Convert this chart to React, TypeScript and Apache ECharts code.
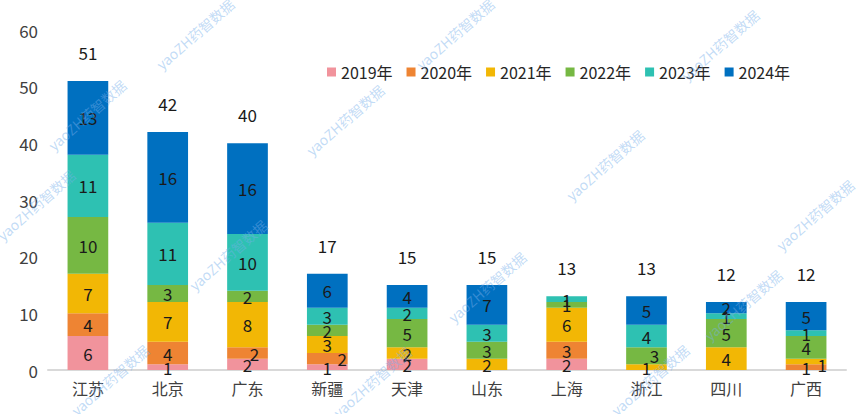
import React, { useEffect, useRef } from "react";
import * as echarts from "echarts";

const categories = ["江苏", "北京", "广东", "新疆", "天津", "山东", "上海", "浙江", "四川", "广西"];
const years = ["2019年", "2020年", "2021年", "2022年", "2023年", "2024年"];
const v2019 = [6, 1, 2, 1, 2, 0, 2, 0, 0, 0];
const v2020 = [4, 4, 2, 2, 0, 0, 3, 0, 0, 1];
const v2021 = [7, 7, 8, 3, 2, 2, 6, 1, 4, 1];
const v2022 = [10, 3, 2, 2, 5, 3, 1, 3, 5, 4];
const v2023 = [11, 11, 10, 3, 2, 3, 1, 4, 1, 1];
const v2024 = [13, 16, 16, 6, 4, 7, 0, 5, 2, 5];
const yTicks = [0, 10, 20, 30, 40, 50, 60];

const seriesValues = [v2019, v2020, v2021, v2022, v2023, v2024];
const colors = ["#F1939C", "#EE8433", "#F2B705", "#76B843", "#2EC1B2", "#0070C0"];

// label nudges (style only): [seriesIndex, categoryIndex, dx, dy]
const labelShifts: [number, number, number, number][] = [
  [1, 2, 7, 0],
  [1, 3, 15, 0],
  [3, 7, 8, 0],
  [2, 9, 16, 3],
];

const FONT = '"Noto Sans CJK SC", "Noto Sans", sans-serif';

const watermarks: [number, number][] = [
  [195, 34], [345, 120], [36, 205], [87, 115], [228, 255], [110, 380],
  [605, 165], [455, 34], [720, 45], [815, 215], [487, 287], [743, 305],
  [650, 380], [372, 382],
];

export default function App() {
  const ref = useRef<HTMLDivElement>(null);
  useEffect(() => {
    if (!ref.current) return;
    const chart = echarts.init(ref.current, undefined, { renderer: "svg" });
    const totals = categories.map((_, i) => seriesValues.reduce((s, arr) => s + arr[i], 0));

    const series: any[] = seriesValues.map((arr, si) => ({
      name: years[si],
      type: "bar",
      stack: "total",
      barWidth: "51%",
      itemStyle: { color: colors[si] },
      label: {
        show: true,
        position: "inside",
        fontSize: 17,
        fontFamily: FONT,
        color: "#1a1a1a",
        formatter: (p: any) => (p.value === 0 ? "" : String(p.value)),
      },
      data: arr.map((v, ci) => {
        const sh = labelShifts.find((s) => s[0] === si && s[1] === ci);
        if (sh) return { value: v, label: { offset: [sh[2], sh[3]] } };
        return v;
      }),
    }));

    series.push({
      name: "合计",
      type: "bar",
      stack: "total",
      barWidth: "51%",
      itemStyle: { color: "transparent" },
      label: {
        show: true,
        position: "top",
        distance: 20,
        fontSize: 17,
        fontFamily: FONT,
        color: "#1a1a1a",
        formatter: (p: any) => String(totals[p.dataIndex]),
      },
      data: categories.map(() => 0),
    });

    chart.setOption({
      animation: false,
      backgroundColor: "#ffffff",
      textStyle: { fontFamily: FONT },
      legend: {
        data: years,
        left: 322,
        top: 59,
        itemWidth: 9,
        itemHeight: 9,
        itemGap: 14,
        icon: "rect",
        textStyle: { fontSize: 16, color: "#262626", fontFamily: FONT },
      },
      grid: { left: 48, right: 10, top: 30, bottom: 44, containLabel: false },
      xAxis: {
        type: "category",
        data: categories,
        axisLine: { lineStyle: { color: "#D9D9D9", width: 2 } },
        axisTick: { show: false },
        axisLabel: { fontSize: 16, color: "#404040", margin: 10, fontFamily: FONT },
      },
      yAxis: {
        type: "value",
        min: yTicks[0],
        max: yTicks[yTicks.length - 1],
        interval: 10,
        splitLine: { show: false },
        axisLine: { show: false },
        axisTick: { show: false },
        axisLabel: { fontSize: 17, color: "#404040", margin: 10, fontFamily: FONT },
      },
      graphic: watermarks.map(([x, y]) => ({
        type: "text",
        x,
        y,
        rotation: 0.72,
        z: 100,
        silent: true,
        style: {
          text: "yaoZH药智数据",
          fill: "rgba(120,175,235,0.45)",
          fontSize: 14,
          fontFamily: FONT,
          align: "center",
          verticalAlign: "middle",
        },
      })),
      series,
    });
    return () => chart.dispose();
  }, []);
  return (
    <div
      ref={ref}
      style={{ position: "absolute", left: 0, top: 0, width: 856, height: 414 }}
    />
  );
}
